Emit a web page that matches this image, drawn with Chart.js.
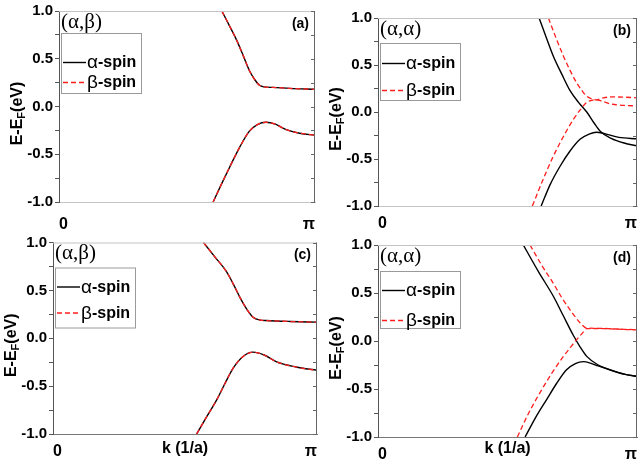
<!DOCTYPE html>
<html>
<head>
<meta charset="utf-8">
<script src="https://cdn.jsdelivr.net/npm/chart.js@4.4.1/dist/chart.umd.min.js"></script>
<style>
  html, body { margin: 0; padding: 0; background: #fff; }
  body { width: 641px; height: 466px; position: relative; overflow: hidden; }
  canvas { position: absolute; }
</style>
</head>
<body>
<canvas id="panelA" width="322" height="233" style="left:0;top:0"></canvas>
<canvas id="panelB" width="321" height="233" style="left:320px;top:0"></canvas>
<canvas id="panelC" width="320" height="233" style="left:0;top:233px"></canvas>
<canvas id="panelD" width="321" height="233" style="left:320px;top:233px"></canvas>
<script>
// k in units of pi/a (0..1), energy in eV relative to E_F
const kTicks = [0, 1];
const kTickLabels = ['0', 'π'];
const eTicks = [-1, -0.5, 0, 0.5, 1];
const eTickLabels = ['-1.0', '-0.5', '0.0', '0.5', '1.0'];
const spinNames = ['α', 'β'];

// (a) (α,β) - both spins coincide
const kA_c = [0.636, 0.665, 0.693, 0.72, 0.743, 0.765, 0.782, 0.80, 0.835, 0.90, 1.0];
const eA_c = [1.0, 0.85, 0.70, 0.53, 0.38, 0.28, 0.225, 0.205, 0.20, 0.19, 0.18];
const kA_v = [0.602, 0.635, 0.667, 0.705, 0.743, 0.775, 0.808, 0.845, 0.885, 0.94, 1.0];
const eA_v = [-1.0, -0.81, -0.633, -0.43, -0.26, -0.19, -0.165, -0.185, -0.24, -0.28, -0.30];

// (b) (α,α)
const kB_ac = [0.622, 0.65, 0.677, 0.71, 0.741, 0.775, 0.806, 0.835, 0.86, 0.90, 0.95, 1.0];
const eB_ac = [1.0, 0.79, 0.594, 0.40, 0.23, 0.10, 0.0, -0.12, -0.21, -0.28, -0.33, -0.36];
const kB_av = [0.63, 0.665, 0.703, 0.74, 0.78, 0.815, 0.843, 0.875, 0.93, 1.0];
const eB_av = [-1.0, -0.77, -0.577, -0.42, -0.29, -0.235, -0.215, -0.23, -0.27, -0.285];
const kB_bc = [0.658, 0.687, 0.716, 0.742, 0.767, 0.787, 0.805, 0.825, 0.843, 0.87, 0.90, 0.95, 1.0];
const eB_bc = [1.0, 0.79, 0.594, 0.44, 0.31, 0.23, 0.17, 0.14, 0.13, 0.15, 0.16, 0.158, 0.15];
const kB_bv = [0.596, 0.637, 0.677, 0.716, 0.754, 0.78, 0.805, 0.825, 0.843, 0.87, 0.90, 0.95, 1.0];
const eB_bv = [-1.0, -0.72, -0.47, -0.26, -0.08, 0.02, 0.10, 0.125, 0.13, 0.11, 0.085, 0.07, 0.065];

// (c) (α,β) - both spins coincide
const kC_c = [0.57, 0.613, 0.656, 0.684, 0.708, 0.735, 0.758, 0.785, 0.808, 0.9, 1.0];
const eC_c = [1.0, 0.85, 0.70, 0.56, 0.427, 0.30, 0.22, 0.19, 0.185, 0.175, 0.168];
const kC_v = [0.544, 0.58, 0.62, 0.65, 0.683, 0.72, 0.758, 0.80, 0.847, 0.92, 1.0];
const eC_v = [-1.0, -0.83, -0.644, -0.48, -0.31, -0.19, -0.145, -0.175, -0.247, -0.30, -0.335];

// (d) (α,α)
const kD_ac = [0.561, 0.62, 0.677, 0.716, 0.754, 0.78, 0.806, 0.85, 0.896, 0.95, 1.0];
const eD_ac = [1.0, 0.72, 0.466, 0.26, 0.06, -0.06, -0.16, -0.25, -0.30, -0.345, -0.368];
const kD_av = [0.568, 0.61, 0.651, 0.69, 0.728, 0.762, 0.793, 0.82, 0.85, 0.9, 0.95, 1.0];
const eD_av = [-1.0, -0.79, -0.61, -0.44, -0.30, -0.235, -0.215, -0.23, -0.26, -0.305, -0.345, -0.37];
const kD_bc = [0.587, 0.632, 0.677, 0.71, 0.741, 0.762, 0.78, 0.805, 0.85, 0.9, 0.95, 1.0];
const eD_bc = [1.0, 0.79, 0.60, 0.45, 0.326, 0.25, 0.19, 0.135, 0.132, 0.128, 0.122, 0.118];
const kD_bv = [0.538, 0.58, 0.625, 0.67, 0.716, 0.742, 0.767, 0.79, 0.805, 0.85, 0.9, 0.95, 1.0];
const eD_bv = [-1.0, -0.76, -0.54, -0.34, -0.16, -0.07, 0.014, 0.085, 0.128, 0.13, 0.126, 0.12, 0.116];

const SANS = '"Liberation Sans", Arial, sans-serif';
const RED = '#ff1e1e';

const styleFor = {
  α: { borderColor: '#000', borderWidth: 1.4, borderDash: [], order: 1 },
  β: { borderColor: RED, borderWidth: 1.3, borderDash: [5, 3], order: 0 }
};

function band(spin, k, e) {
  return Object.assign({
    label: spin + '-spin',
    data: k.map((x, i) => ({ x: x, y: e[i] })),
    pointRadius: 0,
    cubicInterpolationMode: 'monotone',
    fill: false
  }, styleFor[spin]);
}

function drawYTitle(ctx, cx, cy) {
  ctx.save();
  ctx.translate(cx, cy);
  ctx.rotate(-Math.PI / 2);
  const big = 'bold 16px ' + SANS;
  const small = 'bold 11px ' + SANS;
  const parts = [['E-E', big, 0], ['F', small, 4], ['(eV)', big, 0]];
  let total = 0;
  parts.forEach(p => { ctx.font = p[1]; total += ctx.measureText(p[0]).width; });
  let x = -total / 2;
  ctx.textBaseline = 'middle';
  ctx.textAlign = 'left';
  ctx.fillStyle = '#000';
  parts.forEach(p => {
    ctx.font = p[1];
    ctx.fillText(p[0], x, p[2]);
    x += ctx.measureText(p[0]).width;
  });
  ctx.restore();
}

const panelDecor = {
  id: 'panelDecor',
  afterDraw(chart, args, o) {
    const { ctx, chartArea: a, scales: { y } } = chart;
    ctx.save();
    ctx.lineWidth = 1;
    // top and right frame
    ctx.strokeStyle = '#c4c4c4';
    ctx.beginPath();
    ctx.moveTo(a.left, a.top + 0.5);
    ctx.lineTo(a.right, a.top + 0.5);
    ctx.stroke();
    ctx.strokeStyle = '#666';
    ctx.beginPath();
    ctx.moveTo(a.right - 0.5, a.top);
    ctx.lineTo(a.right - 0.5, a.bottom);
    y.ticks.forEach(t => {
      const py = Math.round(y.getPixelForValue(t.value)) + 0.5;
      ctx.moveTo(a.right, py);
      ctx.lineTo(a.right - 4, py);
    });
    ctx.stroke();

    // spin configuration and panel letter
    ctx.fillStyle = '#000';
    ctx.textBaseline = 'middle';
    ctx.textAlign = 'left';
    ctx.font = '21px "Liberation Serif", "Times New Roman", serif';
    ctx.fillText(o.pair, a.left + 2, a.top + 11);
    ctx.font = 'bold 14px ' + SANS;
    ctx.textAlign = 'right';
    ctx.fillText(o.letter, a.right - 6, a.top + 13);

    // legend box
    const L = o.legend;
    const bx = a.left + 2, by = a.top + L.top;
    ctx.strokeStyle = '#9a9a9a';
    ctx.strokeRect(bx + 0.5, by + 0.5, 80, L.h);
    [L.r1, L.r2].forEach((r, i) => {
      const ds = chart.data.datasets.find(d => d.label === spinNames[i] + '-spin');
      const ry = by + r;
      ctx.save();
      ctx.strokeStyle = ds.borderColor;
      ctx.lineWidth = ds.borderWidth;
      ctx.setLineDash(ds.borderDash);
      ctx.beginPath();
      ctx.moveTo(bx + 2, ry + 0.5);
      ctx.lineTo(bx + 25, ry + 0.5);
      ctx.stroke();
      ctx.restore();
      ctx.textAlign = 'left';
      ctx.font = '19px ' + SANS;
      ctx.fillText(spinNames[i], bx + 26, ry + 1);
      const w = ctx.measureText(spinNames[i]).width;
      ctx.font = 'bold 16px ' + SANS;
      ctx.fillText('-spin', bx + 26 + w, ry + 1);
    });

    drawYTitle(ctx, a.left - 41, (a.top + a.bottom) / 2 + 7);
    ctx.restore();
  }
};

function makePanel(id, datasets, p) {
  new Chart(document.getElementById(id), {
    type: 'line',
    data: { datasets: datasets },
    plugins: [panelDecor],
    options: {
      responsive: false,
      animation: false,
      events: [],
      layout: { padding: { top: p.top, right: p.right, left: 0, bottom: 0 } },
      plugins: {
        legend: { display: false },
        tooltip: { enabled: false },
        panelDecor: { pair: p.pair, letter: p.letter, legend: p.legend }
      },
      scales: {
        x: {
          type: 'linear',
          min: 0,
          max: 1,
          afterBuildTicks: s => { s.ticks = kTicks.map(v => ({ value: v })); },
          afterFit: s => { s.height = p.xh; },
          ticks: {
            callback: (v, i) => kTickLabels[i],
            align: 'inner',
            maxRotation: 0,
            padding: p.xpad,
            color: '#000',
            font: { family: SANS, size: 16, weight: 'bold', lineHeight: 1 }
          },
          grid: { display: false },
          border: { display: true, color: p.bottomColor },
          title: {
            display: !!p.xTitle,
            text: p.xTitle || '',
            color: '#000',
            padding: { top: 0, bottom: 8 },
            font: { family: SANS, size: 16, weight: 'bold' }
          }
        },
        y: {
          min: -1,
          max: 1,
          afterFit: s => { s.width = p.yw; },
          ticks: {
            stepSize: 0.25,
            autoSkip: false,
            padding: 2,
            color: '#000',
            font: { family: SANS, size: 15, weight: 'bold', lineHeight: 1 },
            callback: v => {
              const i = eTicks.indexOf(v);
              return i < 0 ? '' : eTickLabels[i];
            }
          },
          grid: { drawOnChartArea: false, tickLength: 4, color: '#555' },
          border: { color: '#555' }
        }
      }
    }
  });
}

makePanel('panelA', [
  band('α', kA_c, eA_c), band('α', kA_v, eA_v),
  band('β', kA_c, eA_c), band('β', kA_v, eA_v)
], { pair: '(α,β)', letter: '(a)', top: 11, right: 2, yw: 59, xh: 31, xpad: 7,
     bottomColor: '#c4c4c4', legend: { top: 22, h: 60, r1: 29, r2: 49 } });

makePanel('panelB', [
  band('α', kB_ac, eB_ac), band('α', kB_av, eB_av),
  band('β', kB_bc, eB_bc), band('β', kB_bv, eB_bv)
], { pair: '(α,α)', letter: '(b)', top: 18, right: 4, yw: 58, xh: 27, xpad: 2,
     bottomColor: '#c4c4c4', legend: { top: 25, h: 57, r1: 20, r2: 47 } });

makePanel('panelC', [
  band('α', kC_c, eC_c), band('α', kC_v, eC_v),
  band('β', kC_c, eC_c), band('β', kC_v, eC_v)
], { pair: '(α,β)', letter: '(c)', top: 8, right: 3, yw: 53, xh: 32, xpad: 2,
     bottomColor: '#777', xTitle: 'k (1/a)', legend: { top: 25, h: 60, r1: 19, r2: 45 } });

makePanel('panelD', [
  band('α', kD_ac, eD_ac), band('α', kD_av, eD_av),
  band('β', kD_bc, eD_bc), band('β', kD_bv, eD_bv)
], { pair: '(α,α)', letter: '(d)', top: 12, right: 4, yw: 58, xh: 29, xpad: 2,
     bottomColor: '#777', xTitle: 'k (1/a)', legend: { top: 26, h: 57, r1: 19, r2: 49 } });
</script>
</body>
</html>
